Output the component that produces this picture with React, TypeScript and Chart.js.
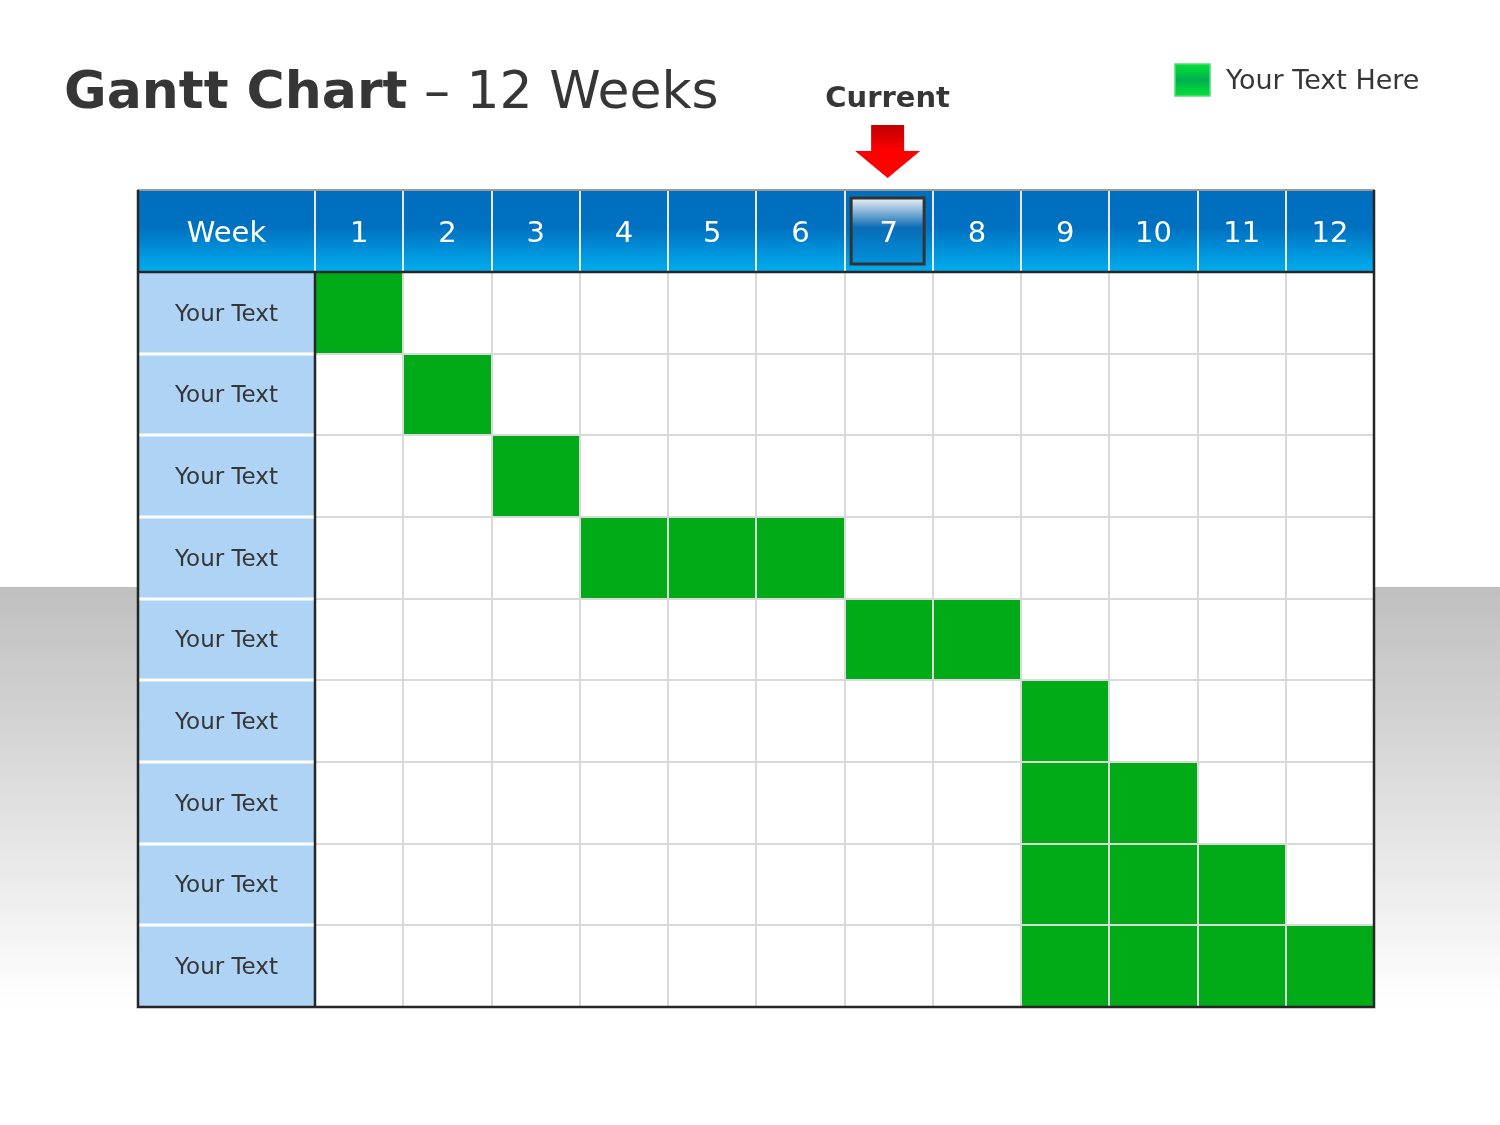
import React, { useEffect, useRef } from "react";
import { Chart, registerables } from "chart.js";

Chart.register(...registerables);

const weekLabels = ["1", "2", "3", "4", "5", "6", "7", "8", "9", "10", "11", "12"];
const taskNames = ["Your Text", "Your Text", "Your Text", "Your Text", "Your Text", "Your Text", "Your Text", "Your Text", "Your Text"];
const taskStart = [0, 1, 2, 3, 6, 8, 8, 8, 8];
const taskEnd = [1, 2, 3, 6, 8, 9, 10, 11, 12];
const currentWeek = "7";
const legendLabel = "Your Text Here";
const titleBold = "Gantt Chart";
const titleRest = " \u2013 12 Weeks";
const headerFirst = "Week";
const currentLabel = "Current";

const FONT = "'DejaVu Sans', sans-serif";
const DARK = "#262626";

const decor = {
  id: "ganttDecor",
  beforeDraw(chart: any) {
    const { ctx, chartArea: ca, width, height } = chart;
    const y = chart.scales.y;
    const xTop = chart.scales.xTop;
    ctx.save();
    ctx.fillStyle = "#ffffff";
    ctx.fillRect(0, 0, width, height);
    const g = ctx.createLinearGradient(0, 587, 0, 1007);
    g.addColorStop(0, "#bfbfbf");
    g.addColorStop(1, "#ffffff");
    ctx.fillStyle = g;
    ctx.fillRect(0, 587, width, 420);
    // chart area white
    ctx.fillStyle = "#ffffff";
    ctx.fillRect(ca.left, ca.top, ca.right - ca.left, ca.bottom - ca.top);
    // label column
    ctx.fillStyle = "#aed3f4";
    ctx.fillRect(y.left, ca.top, y.right - y.left, ca.bottom - ca.top);
    // header
    const hg = ctx.createLinearGradient(0, xTop.top, 0, xTop.bottom);
    hg.addColorStop(0, "#006fbf");
    hg.addColorStop(0.45, "#0070c0");
    hg.addColorStop(1, "#00aeef");
    ctx.fillStyle = hg;
    ctx.fillRect(y.left, xTop.top, ca.right - y.left, xTop.bottom - xTop.top);
    // header separators
    ctx.strokeStyle = "#e8e8e8";
    ctx.lineWidth = 2;
    const x = chart.scales.x;
    for (let i = 0; i <= weekLabels.length; i++) {
      const px = Math.round(x.getPixelForValue(i));
      ctx.beginPath();
      ctx.moveTo(px, xTop.top);
      ctx.lineTo(px, xTop.bottom);
      ctx.stroke();
    }
    // current week highlight
    const ci = weekLabels.indexOf(currentWeek);
    const cx = xTop.getPixelForValue(ci);
    const cy = (xTop.top + xTop.bottom) / 2;
    const bw = 73, bh = 66;
    const bx = cx - bw / 2 - 1;
    const bg = ctx.createLinearGradient(0, cy - bh / 2, 0, cy + bh / 2);
    bg.addColorStop(0, "#eef1f4");
    bg.addColorStop(0.45, "#0a6cb6");
    bg.addColorStop(1, "#0092dc");
    ctx.fillStyle = bg;
    ctx.fillRect(bx, cy - bh / 2, bw, bh);
    ctx.strokeStyle = "#333333";
    ctx.lineWidth = 3;
    ctx.strokeRect(bx, cy - bh / 2, bw, bh);
    // "Week" header text
    ctx.fillStyle = "#ffffff";
    ctx.font = `29px ${FONT}`;
    ctx.textAlign = "center";
    ctx.textBaseline = "middle";
    ctx.fillText(headerFirst, (y.left + y.right) / 2, cy + 3);
    ctx.restore();
  },
  afterDraw(chart: any) {
    const { ctx, chartArea: ca } = chart;
    const y = chart.scales.y;
    const xTop = chart.scales.xTop;
    ctx.save();
    // label column white separators
    ctx.strokeStyle = "#ffffff";
    ctx.lineWidth = 3;
    for (let i = 1; i < taskNames.length; i++) {
      const py = Math.round((y.getPixelForValue(i - 1) + y.getPixelForValue(i)) / 2);
      ctx.beginPath();
      ctx.moveTo(y.left, py);
      ctx.lineTo(y.right, py);
      ctx.stroke();
    }
    // borders
    ctx.strokeStyle = "#999999";
    ctx.lineWidth = 2;
    ctx.beginPath();
    ctx.moveTo(y.left - 1, xTop.top);
    ctx.lineTo(ca.right + 1, xTop.top);
    ctx.stroke();
    ctx.strokeStyle = DARK;
    ctx.lineWidth = 2.5;
    ctx.beginPath();
    ctx.moveTo(y.left, xTop.top);
    ctx.lineTo(y.left, ca.bottom);
    ctx.lineTo(ca.right, ca.bottom);
    ctx.lineTo(ca.right, xTop.top);
    ctx.moveTo(y.left, ca.top);
    ctx.lineTo(ca.right, ca.top);
    ctx.moveTo(ca.left, ca.top);
    ctx.lineTo(ca.left, ca.bottom);
    ctx.stroke();
    // title
    ctx.fillStyle = "#363636";
    ctx.textAlign = "left";
    ctx.textBaseline = "alphabetic";
    ctx.font = `bold 52px ${FONT}`;
    ctx.fillText(titleBold, 64, 108);
    const w = ctx.measureText(titleBold).width;
    ctx.font = `52px ${FONT}`;
    ctx.fillText(titleRest, 64 + w, 108);
    // current label & arrow
    const ci = weekLabels.indexOf(currentWeek);
    const cx = xTop.getPixelForValue(ci) - 1;
    ctx.font = `bold 29px ${FONT}`;
    ctx.textAlign = "center";
    ctx.fillText(currentLabel, cx, 107);
    const ag = ctx.createLinearGradient(0, 125, 0, 178);
    ag.addColorStop(0, "#c00000");
    ag.addColorStop(0.5, "#ff0000");
    ag.addColorStop(1, "#ff0000");
    ctx.fillStyle = ag;
    ctx.beginPath();
    ctx.moveTo(cx - 16.5, 125);
    ctx.lineTo(cx + 16.5, 125);
    ctx.lineTo(cx + 16.5, 151);
    ctx.lineTo(cx + 32.5, 151);
    ctx.lineTo(cx, 178);
    ctx.lineTo(cx - 32.5, 151);
    ctx.lineTo(cx - 16.5, 151);
    ctx.closePath();
    ctx.fill();
    // legend
    const lg = ctx.createLinearGradient(0, 63, 0, 97);
    lg.addColorStop(0, "#00e536");
    lg.addColorStop(0.5, "#00b050");
    lg.addColorStop(1, "#00e536");
    ctx.fillStyle = lg;
    ctx.fillRect(1175, 64, 35, 32);
    ctx.strokeStyle = "#5ad87a";
    ctx.lineWidth = 1.5;
    ctx.strokeRect(1175, 64, 35, 32);
    ctx.fillStyle = "#363636";
    ctx.font = `27px ${FONT}`;
    ctx.textAlign = "left";
    ctx.fillText(chart.data.datasets[0].label, 1226, 89);
    ctx.restore();
  },
};

export default function App() {
  const ref = useRef<HTMLCanvasElement>(null);
  useEffect(() => {
    if (!ref.current) return;
    const chart = new Chart(ref.current, {
      type: "bar",
      data: {
        labels: taskNames,
        datasets: [
          {
            label: legendLabel,
            data: taskStart.map((s, i) => [s, taskEnd[i]]) as any,
            backgroundColor: "#00ab17",
            borderWidth: 0,
            barPercentage: 1,
            categoryPercentage: 1,
            xAxisID: "x",
            yAxisID: "y",
          },
        ],
      },
      options: {
        indexAxis: "y",
        responsive: false,
        animation: false,
        devicePixelRatio: 1,
        layout: { padding: { left: 138, right: 126, top: 190, bottom: 118 } },
        plugins: { legend: { display: false }, tooltip: { enabled: false } },
        scales: {
          x: {
            type: "linear",
            position: "bottom",
            min: 0,
            max: 12,
            ticks: { display: false, stepSize: 1 },
            grid: { color: "#d9d9d9", lineWidth: 2, drawTicks: false, z: 1 },
            border: { display: false },
          },
          xTop: {
            type: "category",
            axis: "x",
            position: "top",
            labels: weekLabels,
            offset: true,
            grid: { display: false, drawTicks: false },
            border: { display: false },
            ticks: {
              color: "#ffffff",
              font: { size: 29, family: FONT },
              padding: 20,
              maxRotation: 0,
              autoSkip: false,
            },
            afterFit: (s: any) => {
              s.height = 82;
            },
          } as any,
          y: {
            type: "category",
            position: "left",
            offset: true,
            grid: { color: "#d9d9d9", lineWidth: 2, drawTicks: false, z: 1, offset: true },
            border: { display: false },
            ticks: {
              color: "#363636",
              font: { size: 23, family: FONT },
              crossAlign: "center",
              padding: 37,
              labelOffset: 2,
            },
            afterFit: (s: any) => {
              s.width = 177;
            },
          },
        },
      },
      plugins: [decor],
    });
    return () => chart.destroy();
  }, []);
  return (
    <div style={{ position: "absolute", left: 0, top: 0, width: 1500, height: 1125 }}>
      <canvas ref={ref} width={1500} height={1125} style={{ width: 1500, height: 1125, display: "block" }} />
    </div>
  );
}
